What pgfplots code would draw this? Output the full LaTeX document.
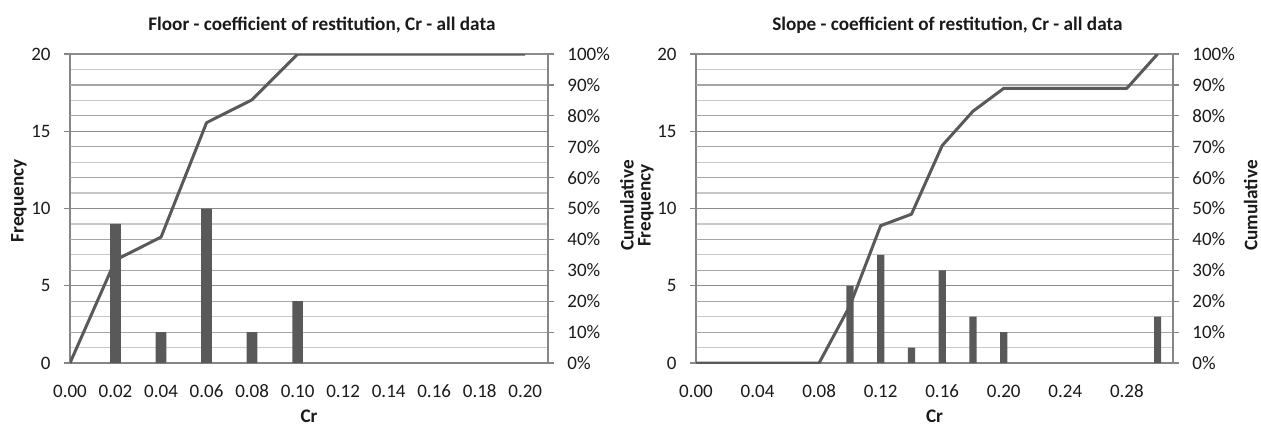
\documentclass[border=0pt]{standalone}
\usepackage{fontspec}
\setmainfont{Carlito}
\usepackage{pgfplots}
\pgfplotsset{compat=1.18}

\definecolor{barc}{HTML}{595959}
\definecolor{axisc}{HTML}{868686}
\definecolor{gridmaj}{HTML}{8C8C8C}
\definecolor{gridmid}{HTML}{A6A6A6}
\definecolor{gridmin}{HTML}{C8C8C8}
\definecolor{txt}{HTML}{1A1A1A}

\pgfplotsset{
  common/.style={
    scale only axis, width=239pt, height=154.5pt,
    xmin=0,
    tick align=outside, major tick length=3pt, minor tick length=0pt,
    axis line style={draw=axisc, line width=0.6pt},
    tick style={draw=axisc, line width=0.6pt},
    tick label style={font=\fontsize{9.5}{11}\selectfont, text=txt},
    label style={font=\bfseries\fontsize{9.6}{11}\selectfont, text=txt},
    title style={font=\bfseries\fontsize{9.6}{11}\selectfont, text=txt,
      at={(axis description cs:0.527,1)}, anchor=center, yshift=8.5pt},
  },
  prim/.style={
    common,
    ymin=0, ymax=20,
    axis lines*=left,
    ytick={0,5,10,15,20}, yticklabels={0,5,10,15,20},
    minor ytick={1,...,19},
    extra y ticks={2,4,6,8,12,14,16,18}, extra y tick labels={},
    extra y tick style={major tick length=0pt, major grid style={draw=gridmid, line width=0.6pt}},
    ymajorgrids, yminorgrids,
    major grid style={draw=gridmaj, line width=0.6pt},
    minor grid style={draw=gridmin, line width=0.6pt},
    xtick style={draw=none},
    xticklabel style={anchor=center, yshift=-11pt},
    yticklabel style={anchor=east, inner sep=0pt, xshift=-6.5pt},
    xlabel={Cr},
    xlabel style={at={(axis description cs:0.5,0)}, anchor=center, yshift=-26.5pt},
  },
  sec/.style={
    common,
    ymin=0, ymax=100,
    axis y line*=right, axis x line=none,
    ytick={0,10,...,100},
    yticklabels={0\%,10\%,20\%,30\%,40\%,50\%,60\%,70\%,80\%,90\%,100\%},
    yticklabel style={anchor=west, inner sep=0pt, xshift=6.5pt},
    ylabel={Cumulative},
  },
  cumline/.style={draw=barc, line width=1.5pt, line join=round, no marks},
  freqbar/.style={ybar, bar width=0.0047, fill=barc, draw=none},
}

\begin{document}
\begin{tikzpicture}
\useasboundingbox (0,0) rectangle (630.5pt,212pt);

% Floor
\begin{axis}[prim, at={(35pt,30.5pt)}, anchor=south west, xmax=0.21,
  xtick={0,0.02,0.04,0.06,0.08,0.10,0.12,0.14,0.16,0.18,0.20},
  xticklabels={0.00,0.02,0.04,0.06,0.08,0.10,0.12,0.14,0.16,0.18,0.20},
  ylabel={Frequency},
  ylabel style={at={(axis description cs:-0.1067,0.525)}, anchor=center},
  title={Floor - coefficient of restitution, Cr - all data}]
  \addplot[freqbar] coordinates {(0.02,9)(0.04,2)(0.06,10)(0.08,2)(0.10,4)};
\end{axis}
\begin{axis}[sec, at={(35pt,30.5pt)}, anchor=south west, xmax=0.21,
  ylabel style={at={(axis description cs:1.165,0.51)}, anchor=center}]
  \addplot[cumline] coordinates {
    (0.00,0)(0.02,33.33)(0.04,40.74)(0.06,77.78)(0.08,85.19)(0.10,100)
    (0.12,100)(0.14,100)(0.16,100)(0.18,100)(0.20,100)};
\end{axis}

% Slope
\begin{axis}[prim, at={(348pt,30.5pt)}, anchor=south west, xmax=0.31,
  width=238.5pt,
  xtick={0,0.04,0.08,0.12,0.16,0.20,0.24,0.28},
  xticklabels={0.00,0.04,0.08,0.12,0.16,0.20,0.24,0.28},
  ylabel={Frequency},
  ylabel style={at={(axis description cs:-0.105,0.51)}, anchor=center},
  title={Slope - coefficient of restitution, Cr - all data}]
  \addplot[freqbar] coordinates {(0.10,5)(0.12,7)(0.14,1)(0.16,6)(0.18,3)(0.20,2)(0.30,3)};
\end{axis}
\begin{axis}[sec, at={(348pt,30.5pt)}, anchor=south west, xmax=0.31,
  width=238.5pt,
  ylabel style={at={(axis description cs:1.163,0.51)}, anchor=center}]
  \addplot[cumline] coordinates {
    (0.00,0)(0.02,0)(0.04,0)(0.06,0)(0.08,0)(0.10,18.52)(0.12,44.44)
    (0.14,48.15)(0.16,70.37)(0.18,81.48)(0.20,88.89)(0.22,88.89)
    (0.24,88.89)(0.26,88.89)(0.28,88.89)(0.30,100)};
\end{axis}
\end{tikzpicture}
\end{document}
